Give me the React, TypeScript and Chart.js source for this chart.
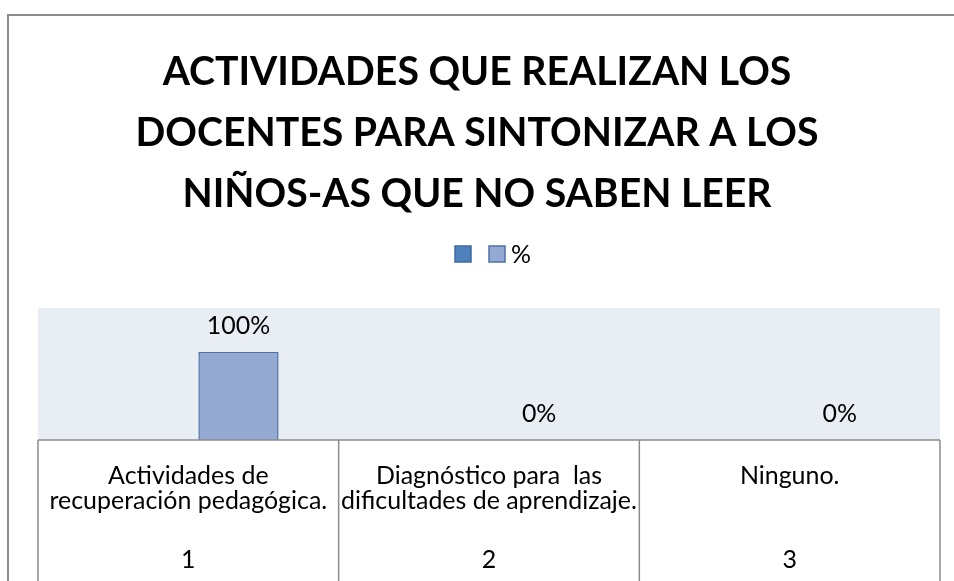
import React, { useEffect, useRef } from 'react';
import { Chart, registerables } from 'chart.js';

Chart.register(...registerables);

const titleLines = [
  'ACTIVIDADES QUE REALIZAN LOS',
  'DOCENTES PARA SINTONIZAR A LOS',
  'NIÑOS-AS QUE NO SABEN LEER',
];
const categoryText = [
  ['Actividades de', 'recuperación pedagógica.'],
  ['Diagnóstico para  las', 'dificultades de aprendizaje.'],
  ['Ninguno.'],
];
const categoryNumbers = ['1', '2', '3'];
const seriesNames = ['', '%'];
const seriesBlank = [0, 0, 0];
const seriesPct = [100, 0, 0];
const yMax = 150;

const FONT = 'Lato';

function fitSize(text: string, weight: string, target: number) {
  const c = document.createElement('canvas').getContext('2d')!;
  c.font = `${weight} 100px ${FONT}`;
  return (100 * target) / c.measureText(text).width;
}

export default function App() {
  const ref = useRef<HTMLCanvasElement>(null);

  useEffect(() => {
    const canvas = ref.current!;
    const titleSize = fitSize(titleLines[0], 'bold', 629);
    const labelSize = fitSize(categoryText[0][1], 'normal', 278);

    const colors = [
      { fill: '#4f81bd', stroke: '#3e6aa0' },
      { fill: '#95aad3', stroke: '#4e70a6' },
    ];

    const bgPlugin = {
      id: 'bgPlugin',
      beforeDraw(chart: any) {
        const { ctx, chartArea: a, width, height } = chart;
        ctx.save();
        ctx.fillStyle = '#ffffff';
        ctx.fillRect(0, 0, width, height);
        ctx.fillStyle = '#8c8c8c';
        ctx.fillRect(7, 14, 2, height);
        ctx.fillRect(7, 14, width, 2);
        ctx.fillStyle = '#e9edf4';
        ctx.fillRect(a.left, a.top, a.right - a.left, a.bottom - a.top);
        ctx.restore();
      },
    };

    const tablePlugin = {
      id: 'tablePlugin',
      afterDraw(chart: any) {
        const { ctx, chartArea: a, height } = chart;
        const xs = chart.scales.x;
        const n = categoryText.length;
        ctx.save();
        ctx.strokeStyle = '#8c8c8c';
        ctx.lineWidth = 1.5;
        ctx.beginPath();
        ctx.moveTo(a.left, a.bottom);
        ctx.lineTo(a.right, a.bottom);
        for (let i = 0; i <= n; i++) {
          let x;
          if (i === 0) x = a.left;
          else if (i === n) x = a.right;
          else x = (xs.getPixelForValue(i - 1) + xs.getPixelForValue(i)) / 2;
          ctx.moveTo(x, a.bottom);
          ctx.lineTo(x, height);
        }
        ctx.stroke();
        ctx.fillStyle = '#000';
        ctx.font = `${labelSize}px ${FONT}`;
        ctx.textAlign = 'center';
        ctx.textBaseline = 'alphabetic';
        categoryNumbers.forEach((num, i) => {
          ctx.fillText(num, xs.getPixelForValue(i), a.bottom + 128);
        });
        ctx.restore();
      },
    };

    const dataLabelPlugin = {
      id: 'dataLabelPlugin',
      afterDatasetsDraw(chart: any) {
        const { ctx } = chart;
        const meta = chart.getDatasetMeta(1);
        ctx.save();
        ctx.fillStyle = '#000';
        ctx.font = `${labelSize}px ${FONT}`;
        ctx.textAlign = 'center';
        ctx.textBaseline = 'middle';
        meta.data.forEach((bar: any, i: number) => {
          ctx.fillText(`${seriesPct[i]}%`, bar.x, bar.y - 26);
        });
        ctx.restore();
      },
    };

    const legendPlugin = {
      id: 'legendPlugin',
      afterDraw(chart: any) {
        const { ctx, width } = chart;
        ctx.save();
        ctx.font = `${labelSize}px ${FONT}`;
        const box = 16;
        const gap = 6;
        const itemGap = 18;
        const items = chart.data.datasets.map((d: any) => ({
          label: d.label as string,
          w: box + (d.label ? gap + ctx.measureText(d.label).width : 0),
          fill: d.backgroundColor,
          stroke: d.borderColor,
        }));
        const total = items.reduce((s: number, it: any) => s + it.w, 0) + itemGap * (items.length - 1);
        let x = width / 2 + 16 - total / 2;
        const cy = 254;
        items.forEach((it: any) => {
          ctx.fillStyle = it.fill;
          ctx.fillRect(x, cy - box / 2, box, box);
          ctx.strokeStyle = it.stroke;
          ctx.lineWidth = 1.5;
          ctx.strokeRect(x, cy - box / 2, box, box);
          if (it.label) {
            ctx.fillStyle = '#000';
            ctx.textAlign = 'left';
            ctx.textBaseline = 'middle';
            ctx.fillText(it.label, x + box + gap, cy + 1);
          }
          x += it.w + itemGap;
        });
        ctx.restore();
      },
    };

    const chart = new Chart(canvas, {
      type: 'bar',
      data: {
        labels: categoryText,
        datasets: [
          {
            label: seriesNames[0],
            data: seriesBlank,
            backgroundColor: colors[0].fill,
            borderColor: colors[0].stroke,
            borderWidth: (c: any) => (c.raw > 0 ? 1.5 : 0),
            categoryPercentage: 0.667,
            barPercentage: 0.8,
          },
          {
            label: seriesNames[1],
            data: seriesPct,
            backgroundColor: colors[1].fill,
            borderColor: colors[1].stroke,
            borderWidth: (c: any) => (c.raw > 0 ? 1.5 : 0),
            categoryPercentage: 0.667,
            barPercentage: 0.8,
          },
        ],
      },
      options: {
        responsive: false,
        animation: false,
        layout: { padding: 0 },
        plugins: {
          legend: { display: false },
          tooltip: { enabled: false },
          title: {
            display: true,
            text: titleLines,
            color: '#000',
            font: { family: FONT, weight: 'bold', size: titleSize, lineHeight: '61px' },
            padding: { top: 42, bottom: 308 - 42 - 183 },
          },
        },
        scales: {
          x: {
            grid: { display: false, drawTicks: false },
            border: { display: false },
            ticks: {
              color: '#000',
              font: { family: FONT, size: labelSize, lineHeight: '24.5px' },
              padding: 24,
              maxRotation: 0,
              autoSkip: false,
            },
            afterFit: (s: any) => {
              s.height = 141;
            },
          },
          y: {
            display: true,
            min: 0,
            max: yMax,
            ticks: { display: false },
            grid: { display: false },
            border: { display: false },
            afterFit: (s: any) => {
              s.width = 38;
            },
          },
          yRight: {
            display: true,
            position: 'right',
            ticks: { display: false },
            grid: { display: false },
            border: { display: false },
            afterFit: (s: any) => {
              s.width = 14;
            },
          },
        },
      } as any,
      plugins: [bgPlugin, dataLabelPlugin, tablePlugin, legendPlugin],
    });

    return () => chart.destroy();
  }, []);

  return (
    <div style={{ position: 'fixed', left: 0, top: 0, width: 954, height: 581 }}>
      <canvas ref={ref} width={954} height={581} style={{ display: 'block' }} />
    </div>
  );
}
